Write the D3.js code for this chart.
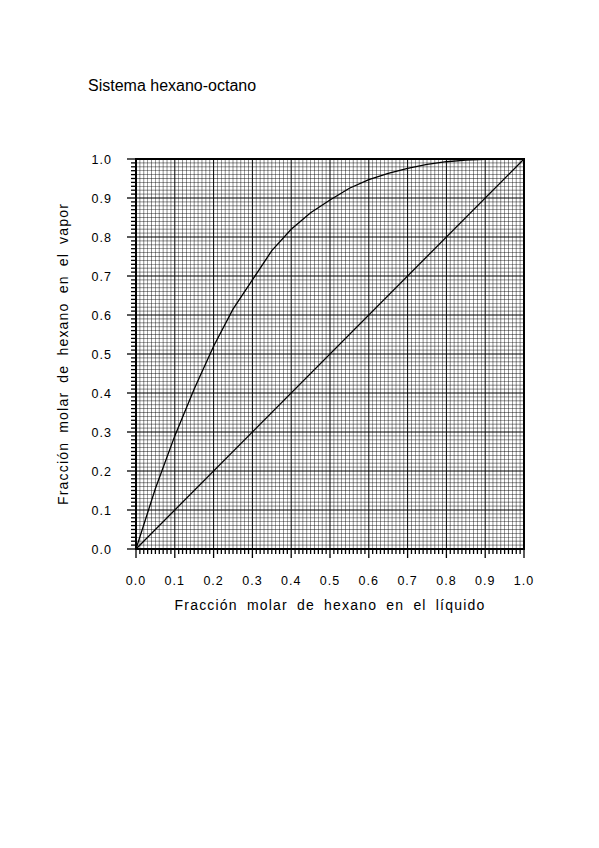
<!DOCTYPE html><html><head><meta charset="utf-8"><script src="https://d3js.org/d3.v7.min.js"></script>
<style>body{margin:0;background:#fff}text{font-family:"Liberation Sans",Arial,sans-serif}</style></head><body>
<script>
const xLiquid=[0,0.05,0.1,0.15,0.2,0.25,0.3,0.35,0.4,0.45,0.5,0.55,0.6,0.65,0.7,0.75,0.8,0.85,0.9,0.95,1.0];
const yVapor=[0,0.155,0.29,0.41,0.52,0.615,0.69,0.765,0.82,0.862,0.895,0.925,0.947,0.963,0.976,0.986,0.993,0.997,0.999,1.0,1.0];
const tickLabels=["0.0","0.1","0.2","0.3","0.4","0.5","0.6","0.7","0.8","0.9","1.0"];
const W=599,H=848,L=136,R=524,T=159,B=549;
const svg=d3.select("body").append("svg").attr("width",W).attr("height",H);
const x=d3.scaleLinear().domain([0,1]).range([L,R]);
const y=d3.scaleLinear().domain([0,1]).range([B,T]);
const minor=d3.range(0,101).map(i=>i/100);
const g=svg.append("g");
g.selectAll(".vx").data(minor).join("line").attr("x1",d=>x(d)).attr("x2",d=>x(d)).attr("y1",T).attr("y2",B)
 .attr("stroke","#000").attr("stroke-width",d=>Math.round(d*100)%10===0?1:0.6).attr("opacity",d=>Math.round(d*100)%10===0?1:0.75);
g.selectAll(".hy").data(minor).join("line").attr("y1",d=>y(d)).attr("y2",d=>y(d)).attr("x1",L).attr("x2",R)
 .attr("stroke","#000").attr("stroke-width",d=>Math.round(d*100)%10===0?1:0.6).attr("opacity",d=>Math.round(d*100)%10===0?1:0.75);
// ticks
g.selectAll(".tx").data(minor).join("line").attr("x1",d=>x(d)).attr("x2",d=>x(d)).attr("y1",B).attr("y2",d=>B+(Math.round(d*100)%10===0?9:5)).attr("stroke","#000").attr("stroke-width",1.3);
g.selectAll(".ty").data(minor).join("line").attr("y1",d=>y(d)).attr("y2",d=>y(d)).attr("x1",L).attr("x2",d=>L-(Math.round(d*100)%10===0?9:5)).attr("stroke","#000").attr("stroke-width",1.3);
svg.append("rect").attr("x",L).attr("y",T).attr("width",R-L).attr("height",B-T).attr("fill","none").attr("stroke","#000").attr("stroke-width",2);
svg.selectAll(".xl").data(tickLabels).join("text").attr("x",(d,i)=>x(i/10)).attr("y",585).attr("text-anchor","middle").attr("font-size",12.5).attr("letter-spacing",1).text(d=>d);
svg.selectAll(".yl").data(tickLabels).join("text").attr("x",112).attr("y",(d,i)=>y(i/10)+4.5).attr("text-anchor","end").attr("font-size",12.5).attr("letter-spacing",1).text(d=>d);
const line=d3.line().x(d=>x(d[0])).y(d=>y(d[1]));
svg.append("path").attr("d",line(xLiquid.map((v,i)=>[v,yVapor[i]]))).attr("fill","none").attr("stroke","#000").attr("stroke-width",1.3);
svg.append("path").attr("d",line([[0,0],[1,1]])).attr("fill","none").attr("stroke","#000").attr("stroke-width",1.3);
svg.append("text").attr("x",88).attr("y",91).attr("font-size",16).text("Sistema hexano-octano");
svg.append("text").attr("x",(L+R)/2).attr("y",610).attr("text-anchor","middle").attr("font-size",14).attr("letter-spacing",1.2).attr("word-spacing",4).text("Fracción molar de hexano en el líquido");
svg.append("text").attr("transform",`translate(68,${(T+B)/2}) rotate(-90)`).attr("text-anchor","middle").attr("font-size",14).attr("letter-spacing",1.2).attr("word-spacing",4).text("Fracción molar de hexano en el vapor");
</script></body></html>
